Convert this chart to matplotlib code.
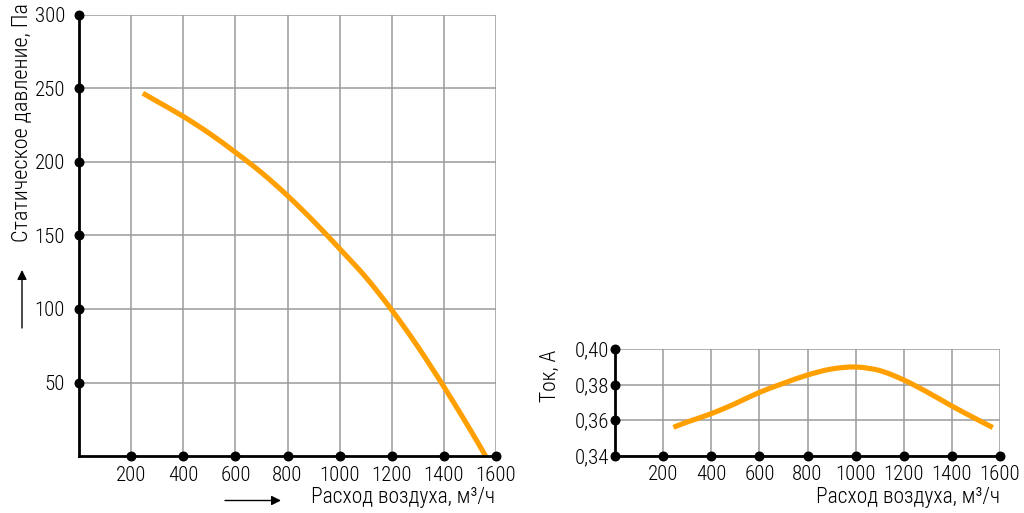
import matplotlib
matplotlib.use("Agg")
import matplotlib.pyplot as plt
from matplotlib import font_manager
from matplotlib.font_manager import FontProperties
from matplotlib.patches import FancyArrowPatch, PathPatch
from matplotlib.path import Path

# Pressure curve data (air flow m3/h -> static pressure Pa)
flow_p = [245, 300, 400, 500, 600, 700, 800, 900, 1000, 1100, 1200, 1300, 1400, 1500, 1560]
pressure = [246.8, 241.2, 231.0, 219.5, 206.6, 192.8, 177.1, 159.7, 141.0, 121.7, 99.3, 74.4, 47.1, 18.2, 0.0]

# Current curve data (air flow m3/h -> current A)
flow_i = [243, 300, 400, 500, 600, 700, 800, 900, 1000, 1100, 1200, 1300, 1400, 1500, 1570]
current = [0.3560, 0.3590, 0.3637, 0.3694, 0.3757, 0.3808, 0.3855, 0.3889, 0.3900, 0.3880, 0.3827, 0.3757, 0.3680, 0.3608, 0.3559]

x_ticks = [200, 400, 600, 800, 1000, 1200, 1400, 1600]
p_ticks = [50, 100, 150, 200, 250, 300]
i_ticks = [0.34, 0.36, 0.38, 0.40]

x_label = "Расход воздуха, м³/ч"
p_label = "Статическое давление, Па"
i_label = "Ток, А"

ORANGE = "#FF9F00"
GRID = "#9a9a9a"

# pick a narrow, light font if available
prefs = ["RobotoCondensed-Light", "RobotoCondensed-Regular",
         "LiberationSansNarrow-Regular", "NotoSans-CondensedLight",
         "NotoSans-Condensed.ttf", "DejaVuSansCondensed.ttf"]
files = [f.fname for f in font_manager.fontManager.ttflist]
fp_file = None
for key in prefs:
    hits = [f for f in files if key in f]
    if hits:
        fp_file = hits[0]
        break
if fp_file:
    FS_T, FS_X, FS_Y = 15, 15.5, 16
else:
    FS_T, FS_X, FS_Y = 11.5, 12, 12


def fprop(size):
    p = FontProperties(fname=fp_file) if fp_file else FontProperties(family='DejaVu Sans')
    p.set_size(size)
    return p


def smooth_path(xs, ys):
    """Cubic Bezier path through the given data points (Catmull-Rom tangents)."""
    pts = list(zip(xs, ys))
    verts, codes = [pts[0]], [Path.MOVETO]
    n = len(pts)
    for i in range(n - 1):
        p0 = pts[i - 1] if i > 0 else pts[i]
        p1, p2 = pts[i], pts[i + 1]
        p3 = pts[i + 2] if i + 2 < n else pts[i + 1]
        c1 = (p1[0] + (p2[0] - p0[0]) / 6, p1[1] + (p2[1] - p0[1]) / 6)
        c2 = (p2[0] - (p3[0] - p1[0]) / 6, p2[1] - (p3[1] - p1[1]) / 6)
        verts += [c1, c2, p2]
        codes += [Path.CURVE4] * 3
    return Path(verts, codes)


W, H = 1024, 513
fig = plt.figure(figsize=(W / 100, H / 100), dpi=100)


def style(ax, xt, yt, ylim, yfmt, ypad):
    ax.set_xlim(0, 1600)
    ax.set_ylim(*ylim)
    ax.set_xticks(xt)
    ax.set_yticks(yt)
    ax.set_xticklabels([str(v) for v in xt], fontproperties=fprop(FS_T))
    ax.set_yticklabels([yfmt(v) for v in yt], fontproperties=fprop(FS_T))
    ax.tick_params(length=0, pad=ypad, axis='y')
    ax.tick_params(length=0, pad=7, axis='x')
    ax.grid(True, color=GRID, lw=1.1)
    ax.set_axisbelow(True)
    for s in ['top', 'right']:
        ax.spines[s].set_visible(False)
    for s in ['left', 'bottom']:
        ax.spines[s].set_linewidth(2)
        ax.spines[s].set_color('black')
        ax.spines[s].set_zorder(5)
    ax.scatter(xt, [ylim[0]] * len(xt), s=38, color='black', zorder=6, clip_on=False)
    ax.scatter([0] * len(yt), yt, s=38, color='black', zorder=6, clip_on=False)


def curve(ax, xs, ys):
    ax.add_patch(PathPatch(smooth_path(xs, ys), facecolor='none', edgecolor=ORANGE,
                           lw=3.7, capstyle='butt', joinstyle='round', zorder=4))


# Left chart
ax1 = fig.add_axes([79 / W, (H - 456) / H, 417 / W, 441 / H])
style(ax1, x_ticks, p_ticks, (0, 300), lambda v: str(v), 10)
curve(ax1, flow_p, pressure)

# Right chart
ax2 = fig.add_axes([615 / W, (H - 455.7) / H, 385 / W, 106.4 / H])
style(ax2, x_ticks, i_ticks, (0.34, 0.40), lambda v: f"{v:.2f}".replace('.', ','), 4)
curve(ax2, flow_i, current)

# Axis titles
fig.text(22 / W, (H - 123) / H, p_label, rotation=90, ha='center', va='center',
         fontproperties=fprop(FS_Y))
fig.text(495 / W, (H - 498) / H, x_label, ha='right', va='center', fontproperties=fprop(FS_X))
fig.text(1000 / W, (H - 497) / H, x_label, ha='right', va='center', fontproperties=fprop(FS_X))
fig.text(550 / W, (H - 376) / H, i_label, rotation=90, ha='center', va='center',
         fontproperties=fprop(FS_X))

# Arrows
arrow = dict(arrowstyle='-|>', lw=1, color='black', mutation_scale=14, shrinkA=0, shrinkB=0)
fig.add_artist(FancyArrowPatch((22 / W, (H - 328) / H), (22 / W, (H - 270) / H),
                               transform=fig.transFigure, **arrow))
fig.add_artist(FancyArrowPatch((225 / W, (H - 500.5) / H), (281 / W, (H - 500.5) / H),
                               transform=fig.transFigure, **arrow))

fig.savefig("out.png", dpi=100)
